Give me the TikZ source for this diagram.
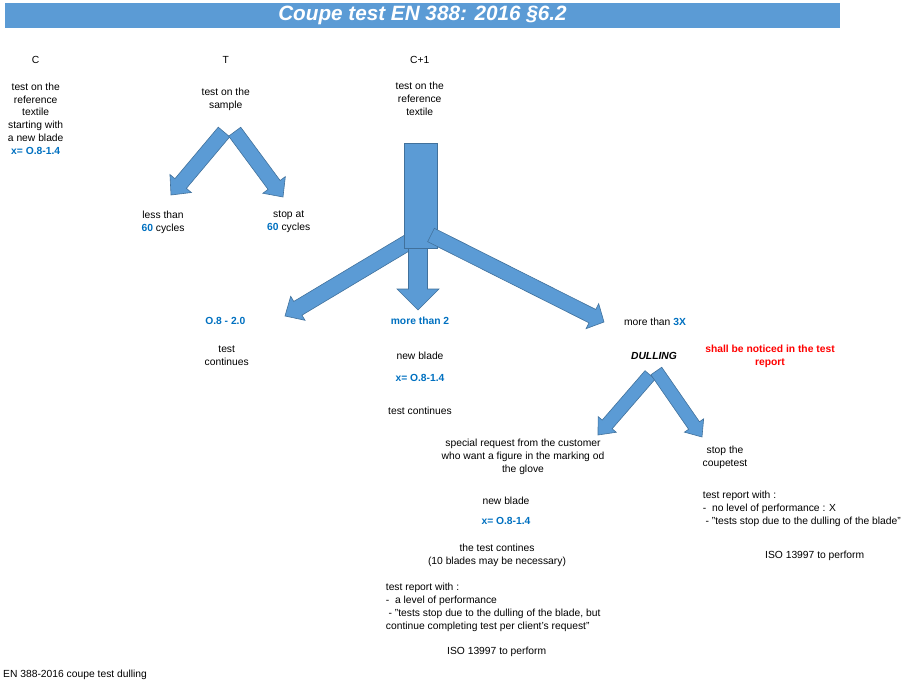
\documentclass[tikz,border=0pt]{standalone}
\usepackage{fontspec}
\setmainfont{Liberation Sans}
\usepackage{tikz}
\usetikzlibrary{positioning,calc}

\definecolor{arrowfill}{HTML}{5B9BD5}
\definecolor{arrowline}{HTML}{41719C}
\definecolor{numblue}{HTML}{0070C0}

% blue bold figures
\newcommand{\bluenum}[1]{\textcolor{numblue}{\bfseries #1}}
% block arrow: tail, tip, half shaft, half head, head length
\newcommand{\blockarrow}[5]{%
  \coordinate (hb) at ($(#2)!#5!(#1)$);
  \draw[blk] ($(#1)!#3!90:(#2)$) -- ($(hb)!#3!90:(#2)$) -- ($(hb)!#4!90:(#2)$) -- (#2)
    -- ($(hb)!#4!-90:(#2)$) -- ($(hb)!#3!-90:(#2)$) -- ($(#1)!#3!-90:(#2)$) -- cycle;}

\begin{document}
\begin{tikzpicture}[x=1pt,y=-1pt,on grid,
   txt/.style={font={\fontsize{10.3}{12.8}\selectfont},align=center,inner sep=0pt},
   warn/.style={txt,text=red,font={\fontsize{10.3}{12.8}\selectfont\bfseries}},
   blk/.style={draw=arrowline,line width=0.6pt,fill=arrowfill,line join=miter}]
   \useasboundingbox (0,0) rectangle (908,685);

   \node[fill=arrowfill,minimum width=835pt,minimum height=24.4pt,inner sep=0pt,text=white,
         font={\fontsize{20.7}{24}\selectfont\bfseries\itshape}] (title) at (422.5,15.5) {Coupe test EN 388: 2016 §6.2};

   % the three columns
   \node[txt] (C) at (35.7,60.3) {C};
   \node[txt] (Cdesc) at (35.7,118.7) {test on the\\reference\\textile\\starting with\\a new blade\\\bluenum{x= O.8-1.4}};
   \node[txt] (T) at (225.7,60.3) {T};
   \node[txt] (Tdesc) at (225.7,99.3) {test on the\\sample};
   \node[txt] (C1) at (419.7,59.5) {C+1};
   \node[txt] (C1desc) at (419.7,98.8) {test on the\\reference\\textile};

   \node[txt] (less) at (163,222) {less than\\\bluenum{60} cycles};
   \node[txt] (stop) at (288.7,222) {stop at\\\bluenum{60} cycles};

   \node[txt] (range) at (225.3,321) {\bluenum{O.8 - 2.0}};
   \node[txt] (rangedesc) at (226.7,355.7) {test\\continues};
   \node[txt] (more2) at (420,321) {\bluenum{more than 2}};
   \node[txt] (blade) [below=34.7pt of more2] {new blade};
   \node[txt] (xval) [below=22pt of blade] {\bluenum{x= O.8-1.4}};
   \node[txt] (cont) [below=33.3pt of xval] {test continues};
   \node[txt] (more3) at (655,322) {more than \bluenum{3X}};
   \node[txt] (dull) at (654,356) {\bfseries\itshape DULLING};
   \node[warn] (notice) at (770,356) {shall be noticed in the test\\report};

   \node[txt] (special) at (523,456.7) {special request from the customer\\who want a figure in the marking od\\the glove};
   \node[txt] (stopc) at (725,457.3) {stop the\\coupetest};
   \node[txt] (blade2) at (506,501) {new blade};
   \node[txt] (xval2) [below=20pt of blade2] {\bluenum{x= O.8-1.4}};
   \node[txt] (contines) at (497,555) {the test contines\\(10 blades may be necessary)};
   \node[txt,align=left,anchor=west] (report2) at (385.7,607.5) {test report with :\\-\ \ a level of performance\\\hspace*{2.7pt}- "tests stop due to the dulling of the blade, but\\continue completing test per client's request"};
   \node[txt] (iso2) at (496.7,651.7) {ISO 13997 to perform};
   \node[txt,align=left,anchor=west] (report3) at (702.7,509) {test report with :\\-\ \ no level of performance : X\\\hspace*{2.7pt}- "tests stop due to the dulling of the blade"};
   \node[txt] (iso3) at (814.7,555.7) {ISO 13997 to perform};
   \node[txt,anchor=west] (footer) at (3,675) {EN 388-2016 coupe test dulling};

   % arrows
   \coordinate (Tl0) at (224,132);   \coordinate (Tl1) at (171,195);
   \coordinate (Tr0) at (234.7,131.7); \coordinate (Tr1) at (283,197);
   \blockarrow{Tl0}{Tl1}{7.5pt}{14pt}{15pt}
   \blockarrow{Tr0}{Tr1}{7.5pt}{14pt}{15pt}

   \coordinate (Bl0) at (412,240);   \coordinate (Bl1) at (285,316);
   \coordinate (Bd0) at (418,240);   \coordinate (Bd1) at (418,310);
   \coordinate (Br0) at (431,235);   \coordinate (Br1) at (604,322);
   \blockarrow{Bl0}{Bl1}{8pt}{14pt}{15pt}
   \blockarrow{Bd0}{Bd1}{9.5pt}{21pt}{21pt}
   \draw[blk] (404,143) rectangle (437,248);
   \blockarrow{Br0}{Br1}{7.5pt}{14pt}{13pt}

   \coordinate (Dl0) at (650,375);   \coordinate (Dl1) at (598,435);
   \coordinate (Dr0) at (656.3,371); \coordinate (Dr1) at (702,437);
   \blockarrow{Dl0}{Dl1}{6.6pt}{12pt}{14pt}
   \blockarrow{Dr0}{Dr1}{6.6pt}{11.7pt}{14pt}
\end{tikzpicture}
\end{document}
